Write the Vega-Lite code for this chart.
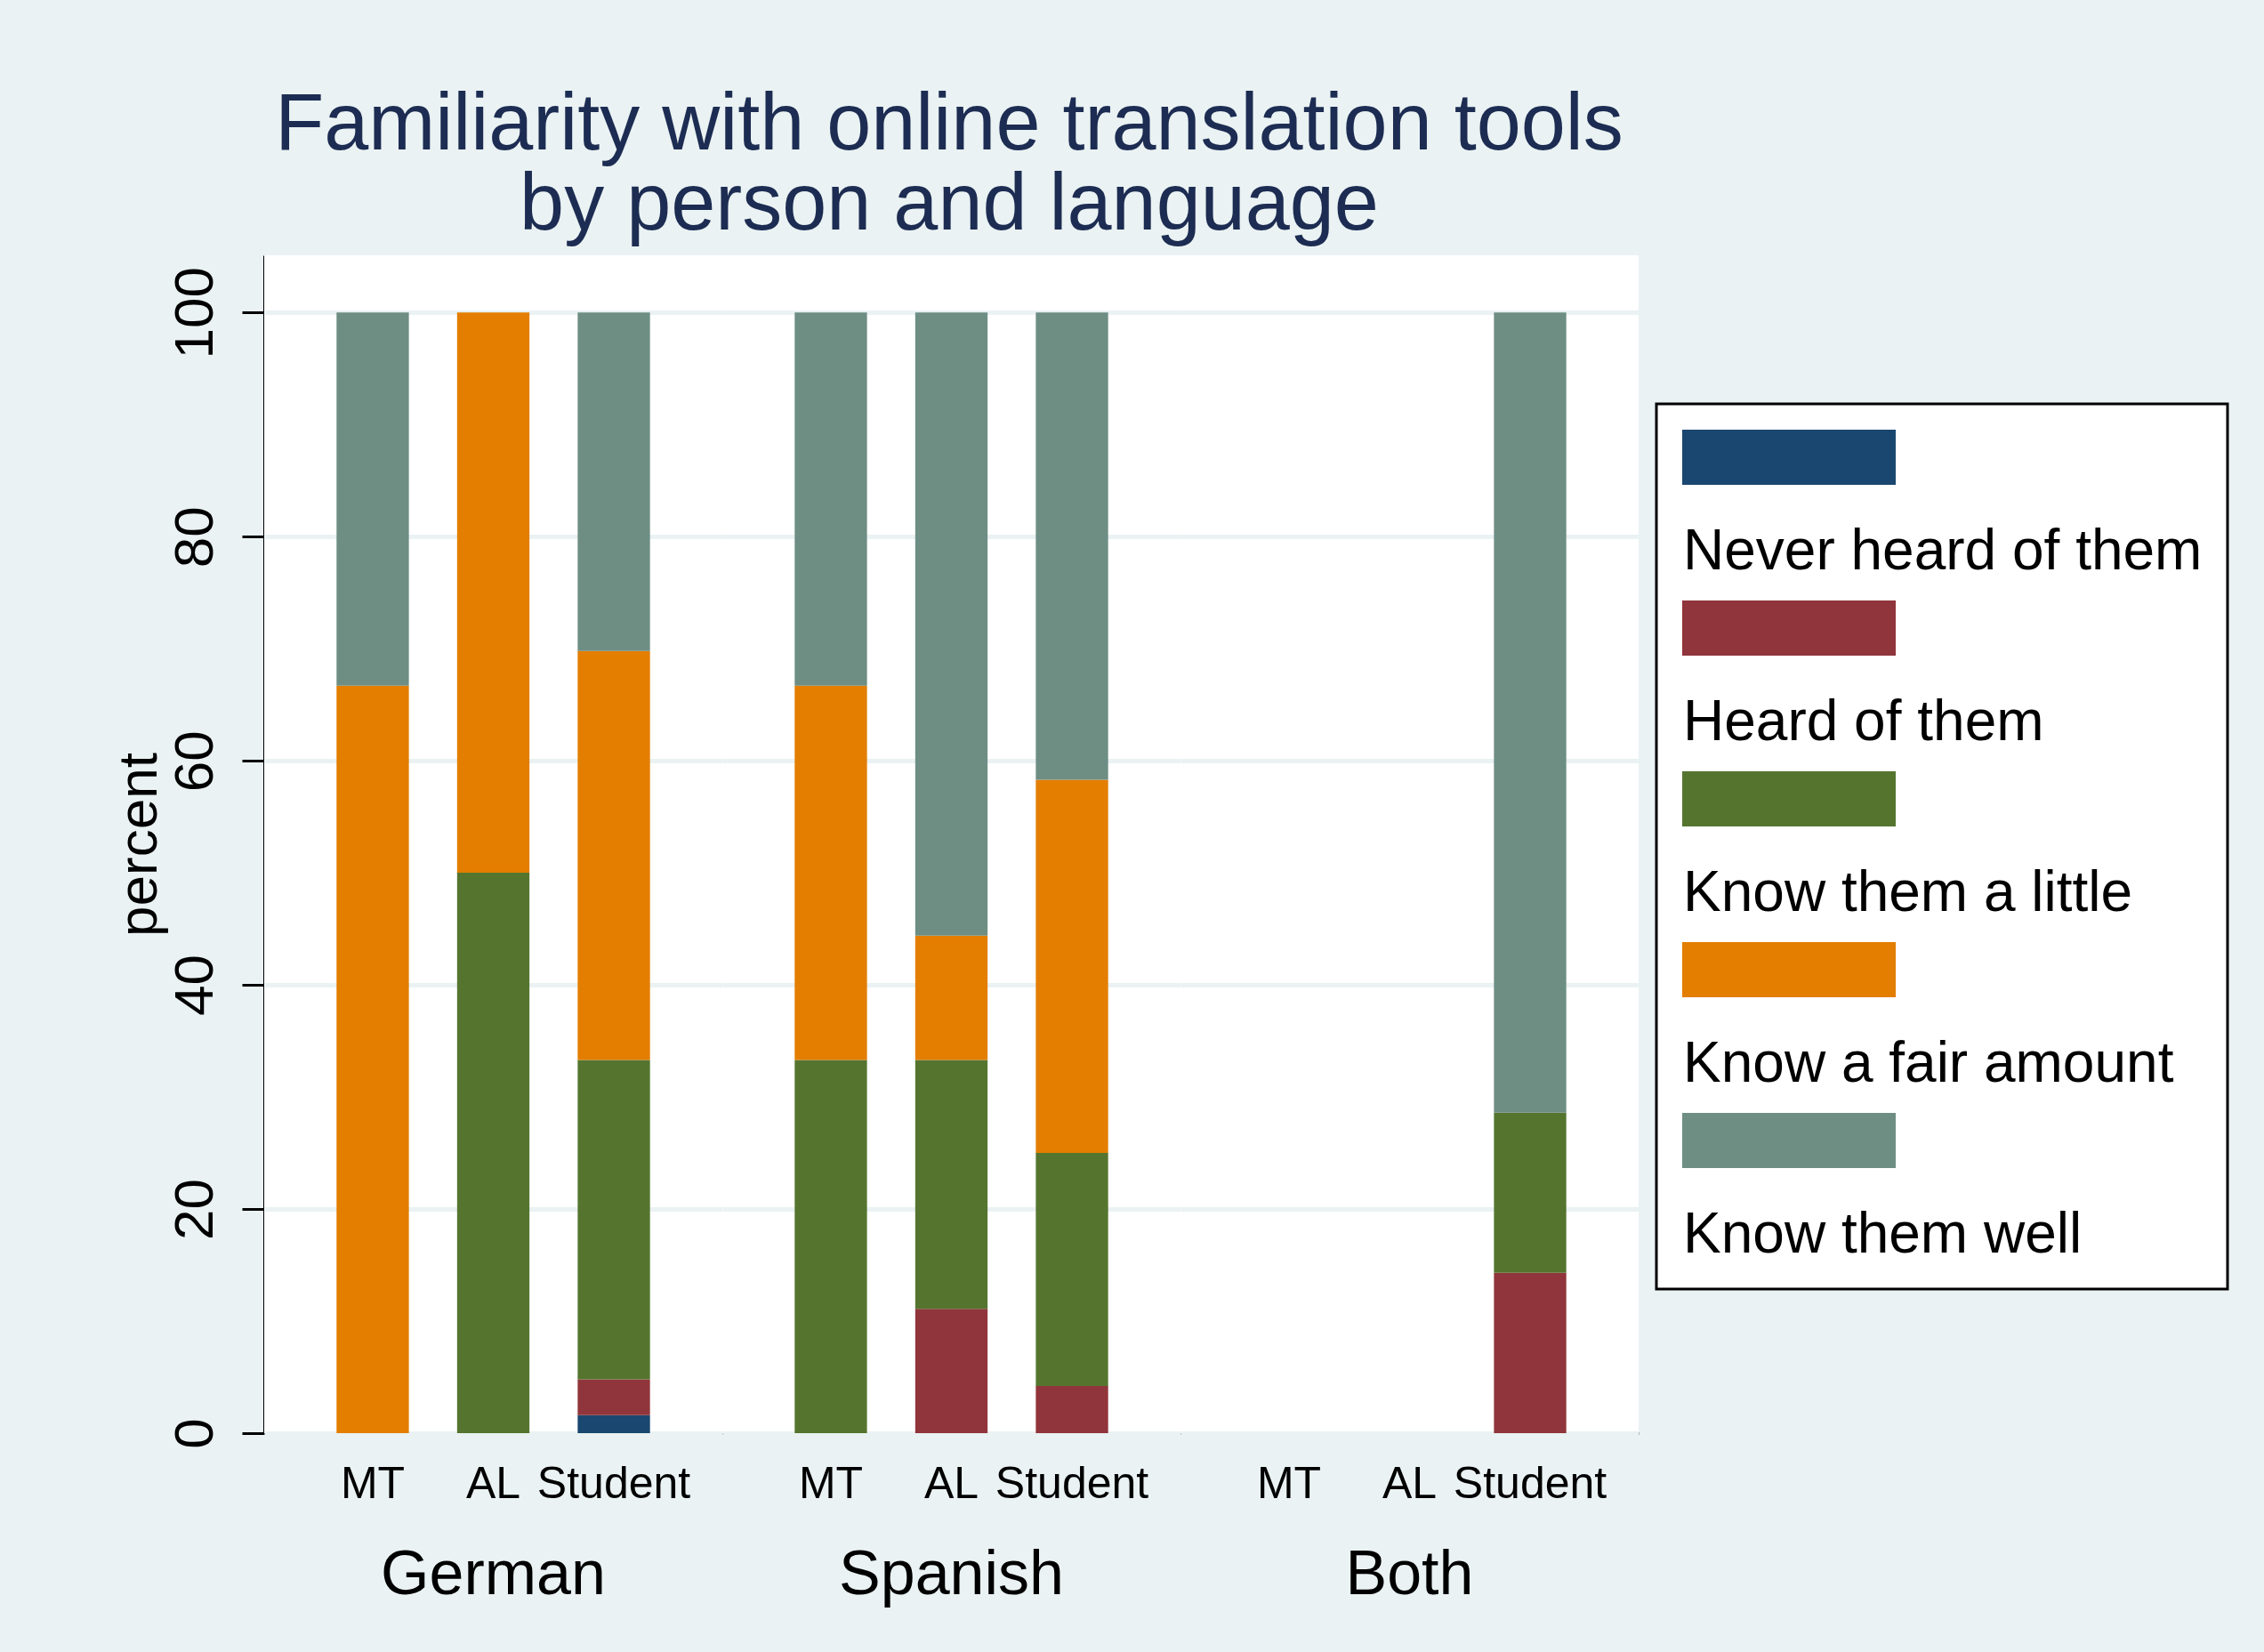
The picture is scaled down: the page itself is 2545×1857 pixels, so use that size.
{
  "$schema": "https://vega.github.io/schema/vega-lite/v6.json",
  "background": "#EAF2F3",
  "padding": {"left": 125, "top": 96, "right": 60, "bottom": 60},
  "title": {
    "text": ["Familiarity with online translation tools", "by person and language"],
    "font": "Liberation Sans",
    "fontSize": 90,
    "fontWeight": "normal",
    "color": "#1C2C52",
    "lineHeight": 90,
    "anchor": "start",
    "frame": "group",
    "align": "center",
    "dx": 770,
    "offset": 10
  },
  "data": {
    "values": [
      {"language": "German", "person": "MT", "level": "Know a fair amount", "rank": 4, "pct": 66.7},
      {"language": "German", "person": "MT", "level": "Know them well", "rank": 5, "pct": 33.3},
      {"language": "German", "person": "AL", "level": "Know them a little", "rank": 3, "pct": 50},
      {"language": "German", "person": "AL", "level": "Know a fair amount", "rank": 4, "pct": 50},
      {"language": "German", "person": "Student", "level": "Never heard of them", "rank": 1, "pct": 1.6},
      {"language": "German", "person": "Student", "level": "Heard of them", "rank": 2, "pct": 3.2},
      {"language": "German", "person": "Student", "level": "Know them a little", "rank": 3, "pct": 28.5},
      {"language": "German", "person": "Student", "level": "Know a fair amount", "rank": 4, "pct": 36.5},
      {"language": "German", "person": "Student", "level": "Know them well", "rank": 5, "pct": 30.2},
      {"language": "Spanish", "person": "MT", "level": "Know them a little", "rank": 3, "pct": 33.3},
      {"language": "Spanish", "person": "MT", "level": "Know a fair amount", "rank": 4, "pct": 33.4},
      {"language": "Spanish", "person": "MT", "level": "Know them well", "rank": 5, "pct": 33.3},
      {"language": "Spanish", "person": "AL", "level": "Heard of them", "rank": 2, "pct": 11.1},
      {"language": "Spanish", "person": "AL", "level": "Know them a little", "rank": 3, "pct": 22.2},
      {"language": "Spanish", "person": "AL", "level": "Know a fair amount", "rank": 4, "pct": 11.1},
      {"language": "Spanish", "person": "AL", "level": "Know them well", "rank": 5, "pct": 55.6},
      {"language": "Spanish", "person": "Student", "level": "Heard of them", "rank": 2, "pct": 4.2},
      {"language": "Spanish", "person": "Student", "level": "Know them a little", "rank": 3, "pct": 20.8},
      {"language": "Spanish", "person": "Student", "level": "Know a fair amount", "rank": 4, "pct": 33.3},
      {"language": "Spanish", "person": "Student", "level": "Know them well", "rank": 5, "pct": 41.7},
      {"language": "Both", "person": "Student", "level": "Heard of them", "rank": 2, "pct": 14.3},
      {"language": "Both", "person": "Student", "level": "Know them a little", "rank": 3, "pct": 14.3},
      {"language": "Both", "person": "Student", "level": "Know them well", "rank": 5, "pct": 71.4}
    ]
  },
  "facet": {
    "column": {
      "field": "language",
      "type": "nominal",
      "sort": ["German", "Spanish", "Both"],
      "header": {
        "title": null,
        "labelOrient": "bottom",
        "labelFont": "Liberation Sans",
        "labelFontSize": 70,
        "labelColor": "black",
        "labelPadding": 44
      }
    }
  },
  "spacing": 0,
  "spec": {
    "width": 515,
    "height": 1324,
    "mark": {"type": "bar"},
    "encoding": {
      "x": {
        "field": "person",
        "type": "nominal",
        "sort": ["MT", "AL", "Student"],
        "scale": {"domain": ["MT", "AL", "Student"], "paddingInner": 0.4, "paddingOuter": 0.6},
        "axis": {
          "title": null,
          "labelAngle": 0,
          "labelFont": "Liberation Sans",
          "labelFontSize": 50,
          "labelColor": "black",
          "labelPadding": 32,
          "ticks": false,
          "domainColor": "black",
          "domainWidth": 3,
          "grid": false
        }
      },
      "y": {
        "field": "pct",
        "type": "quantitative",
        "stack": "zero",
        "scale": {"domain": [0, 105.1], "nice": false, "zero": true},
        "axis": {
          "title": "percent",
          "titleFont": "Liberation Sans",
          "titleFontSize": 62,
          "titleFontWeight": "normal",
          "titleColor": "black",
          "titlePadding": 0,
          "values": [0, 20, 40, 60, 80, 100],
          "labelAngle": -90,
          "labelAlign": "center",
          "labelBaseline": "bottom",
          "labelFont": "Liberation Sans",
          "labelFontSize": 62,
          "labelColor": "black",
          "labelPadding": 21,
          "tickSize": 25,
          "tickWidth": 3,
          "tickColor": "black",
          "domainColor": "black",
          "domainWidth": 3,
          "grid": true,
          "gridColor": "#EAF2F3",
          "gridWidth": 5
        }
      },
      "color": {
        "field": "level",
        "type": "nominal",
        "scale": {
          "domain": ["Never heard of them", "Heard of them", "Know them a little", "Know a fair amount", "Know them well"],
          "range": ["#1A476F", "#90353B", "#55752F", "#E37E00", "#6E8E84"]
        },
        "legend": {
          "title": null,
          "orient": "none",
          "legendX": 1565,
          "legendY": 167,
          "symbolType": "M-3.871,-1H3.871V1H-3.871Z",
          "symbolSize": 3844,
          "symbolStrokeWidth": 0,
          "symbolOpacity": 1,
          "symbolOffset": 89,
          "labelFont": "Liberation Sans",
          "labelFontSize": 64,
          "labelColor": "black",
          "labelOffset": -151,
          "labelLimit": 0,
          "rowPadding": 21,
          "padding": 28,
          "strokeColor": "black",
          "fillColor": "white",
          "encode": {
            "labels": {"update": {"dy": {"value": 107}}},
            "legend": {"update": {"strokeWidth": {"value": 3}}}
          }
        }
      },
      "order": {"field": "rank", "type": "quantitative"}
    }
  },
  "config": {
    "view": {"fill": "white", "stroke": null}
  }
}
